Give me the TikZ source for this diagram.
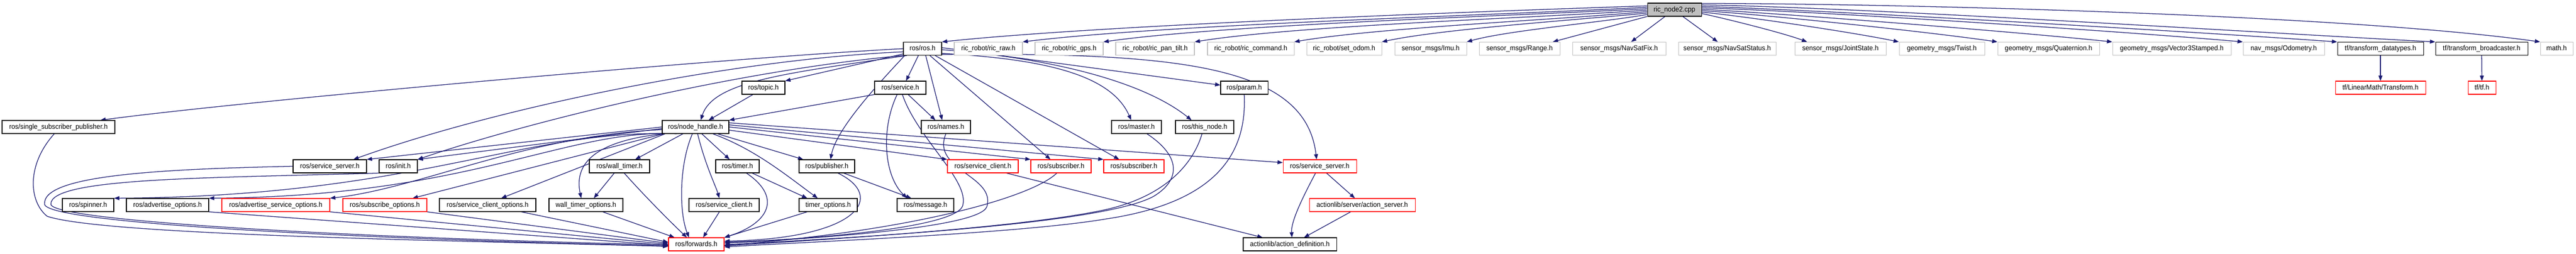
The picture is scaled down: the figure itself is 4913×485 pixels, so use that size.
\documentclass[tikz,border=0pt]{standalone}
\usepackage{fontspec}
\setmainfont{Liberation Sans}[FakeStretch=0.93]
\usetikzlibrary{arrows.meta,calc,backgrounds}
\definecolor{mblue}{HTML}{191970}
\definecolor{lgray}{HTML}{BFBFBF}
\tikzset{
 box/.style={draw, fill=white, line width=0.8pt, inner sep=0pt, minimum height=18.75pt, text height=7.4pt, text depth=2.1pt, font=\fontsize{10.2pt}{12pt}\selectfont},
 doc/.style={box, draw=black},
 nodoc/.style={box, draw=lgray},
 trunc/.style={box, draw=red},
 rootbox/.style={box, draw=black, fill=lgray},
 e/.style={draw=mblue, line width=0.95pt, -{Triangle[length=7.5pt,width=5.6pt]}}
}
\newcommand{\mkbox}[6]{\node[#1, minimum width=#5*0.75pt] (#2) at (#3,#4) {#6};}
\begin{document}
\begin{tikzpicture}[x=0.75pt,y=0.75pt]
\useasboundingbox (0,0) rectangle (4913,485);
\mkbox{rootbox}{root}{3193.5}{466.5}{103}{ric\_node2.cpp}
\mkbox{doc}{ros}{1759.5}{392}{73}{ros/ros.h}
\mkbox{nodoc}{raw}{1885}{392}{130}{ric\_robot/ric\_raw.h}
\mkbox{nodoc}{gps}{2039}{392}{130}{ric\_robot/ric\_gps.h}
\mkbox{nodoc}{pantilt}{2203}{392}{150}{ric\_robot/ric\_pan\_tilt.h}
\mkbox{nodoc}{command}{2385.5}{392}{165}{ric\_robot/ric\_command.h}
\mkbox{nodoc}{setodom}{2563.5}{392}{143}{ric\_robot/set\_odom.h}
\mkbox{nodoc}{imu}{2728.5}{392}{137}{sensor\_msgs/Imu.h}
\mkbox{nodoc}{range}{2898}{392}{154}{sensor\_msgs/Range.h}
\mkbox{nodoc}{navfix}{3088}{392}{178}{sensor\_msgs/NavSatFix.h}
\mkbox{nodoc}{navstat}{3294}{392}{186}{sensor\_msgs/NavSatStatus.h}
\mkbox{nodoc}{joint}{3510}{392}{174}{sensor\_msgs/JointState.h}
\mkbox{nodoc}{twist}{3703.5}{392}{163}{geometry\_msgs/Twist.h}
\mkbox{nodoc}{quat}{3907}{392}{194}{geometry\_msgs/Quaternion.h}
\mkbox{nodoc}{vec3}{4142}{392}{226}{geometry\_msgs/Vector3Stamped.h}
\mkbox{nodoc}{odom}{4355.5}{392}{155}{nav\_msgs/Odometry.h}
\mkbox{doc}{tfdt}{4540}{392}{164}{tf/transform\_datatypes.h}
\mkbox{doc}{tfbc}{4733}{392}{176}{tf/transform\_broadcaster.h}
\mkbox{nodoc}{math}{4876}{392}{62}{math.h}
\mkbox{doc}{topic}{1456}{317.5}{82}{ros/topic.h}
\mkbox{doc}{service}{1717}{317.5}{98}{ros/service.h}
\mkbox{doc}{param}{2373}{317.5}{90}{ros/param.h}
\mkbox{trunc}{lmt}{4540}{317.5}{172}{tf/LinearMath/Transform.h}
\mkbox{trunc}{tftf}{4733.5}{317.5}{53}{tf/tf.h}
\mkbox{doc}{ssp}{111.5}{242.5}{215}{ros/single\_subscriber\_publisher.h}
\mkbox{doc}{nh}{1326.5}{242.5}{127}{ros/node\_handle.h}
\mkbox{doc}{names}{1804}{242.5}{94}{ros/names.h}
\mkbox{doc}{master}{2167.5}{242.5}{95}{ros/master.h}
\mkbox{doc}{thisnode}{2297.5}{242.5}{111}{ros/this\_node.h}
\mkbox{doc}{ss}{629}{167.5}{140}{ros/service\_server.h}
\mkbox{doc}{init}{759.5}{167.5}{73}{ros/init.h}
\mkbox{doc}{wt}{1181.5}{167.5}{115}{ros/wall\_timer.h}
\mkbox{doc}{timer}{1406.5}{167.5}{83}{ros/timer.h}
\mkbox{doc}{pub}{1577}{167.5}{106}{ros/publisher.h}
\mkbox{trunc}{scr}{1874.5}{167.5}{135}{ros/service\_client.h}
\mkbox{trunc}{sub1}{2023.5}{167.5}{115}{ros/subscriber.h}
\mkbox{trunc}{sub2}{2162.5}{167.5}{115}{ros/subscriber.h}
\mkbox{trunc}{ssr}{2517}{167.5}{140}{ros/service\_server.h}
\mkbox{doc}{spinner}{168}{93.5}{98}{ros/spinner.h}
\mkbox{doc}{ao}{319.5}{93.5}{157}{ros/advertise\_options.h}
\mkbox{trunc}{aso}{526}{93.5}{206}{ros/advertise\_service\_options.h}
\mkbox{trunc}{so}{734}{93.5}{160}{ros/subscribe\_options.h}
\mkbox{doc}{sco}{930}{93.5}{184}{ros/service\_client\_options.h}
\mkbox{doc}{wto}{1117.5}{93.5}{141}{wall\_timer\_options.h}
\mkbox{doc}{sc}{1381}{93.5}{134}{ros/service\_client.h}
\mkbox{doc}{msg}{1765}{93.5}{108}{ros/message.h}
\mkbox{doc}{tmo}{1579.5}{93.5}{111}{timer\_options.h}
\mkbox{trunc}{as}{2598}{93.5}{202}{actionlib/server/action\_server.h}
\mkbox{trunc}{fwd}{1328}{18.5}{106}{ros/forwards.h}
\mkbox{doc}{ad}{2460}{18.5}{178}{actionlib/action\_definition.h}
\begin{pgfonlayer}{background}
% root edges
\draw[e] (root.172) .. controls (2826,463) and (2110,438) .. (ros.north east);
\draw[e] (root.175) .. controls (2862,456) and (2228,439) .. (raw.north east);
\draw[e] (root.178) .. controls (2898,455) and (2346,439) .. (gps.north east);
\draw[e] (root.181) .. controls (2939,451) and (2478,437) .. (pantilt.north east);
\draw[e] (root.184) .. controls (2984,448) and (2624,432) .. (command.north east);
\draw[e] (root.187) .. controls (3023,448) and (2751,430) .. (setodom.north east);
\draw[e] (root.190) .. controls (3062,443) and (2875,427) .. (imu.north east);
\draw[e] (root.194) -- ($(range.north east)+(-14,0)$);
\draw[e] ($(root.south)+(-18,0)$) -- ($(navfix.north)+(23,0)$);
\draw[e] ($(root.south)+(16,0)$) -- ($(navstat.north)+(-18,0)$);
\draw[e] (root.352) .. controls (3293,449) and (3401,422) .. ($(joint.north west)+(24,0)$);
\draw[e] (root.355) .. controls (3334,453) and (3535,423) .. (twist.north west);
\draw[e] (root.358) .. controls (3378,456) and (3678,424) .. (quat.north west);
\draw[e] (root.1) .. controls (3429,457) and (3846,424) .. (vec3.north west);
\draw[e] (root.4) .. controls (3488,462) and (4036,426) .. (odom.north west);
\draw[e] (root.7) .. controls (3530,463) and (4174,425) .. (tfdt.north west);
\draw[e] (root.10) .. controls (3574,470) and (4317,422) .. (tfbc.north west);
\draw[e] (root.13) .. controls (3621,478) and (4473,457) .. (math.north west);
\draw[e] (tfdt.south) -- (lmt.north);
\draw[e] (tfbc.south) -- (tftf.north);
% ros.h edges
\draw[e] (ros.west) .. controls (1420,377) and (490,295) .. ($(ssp.north)+(80,0)$);
\draw[e] ($(ros.west)+(0,-6)$) .. controls (1400,372) and (950,280) .. ($(ss.north)+(45,0)$);
\draw[e] (ros.south west) .. controls (1400,350) and (1000,250) .. (init.north east);
\draw[e] ($(ros.south west)+(7,0)$) .. controls (1500,345) and (1360,330) .. ($(nh.north)+(10,0)$);
\draw[e] ($(topic.south)+(-20,0)$) -- ($(nh.north)+(25,0)$);
\draw[e] (service.south west) -- (nh.north east);
\draw[e] ($(ros.south west)+(0,3)$) -- (topic.north east);
\draw[e] ($(ros.south)+(-8,0)$) -- ($(service.north)+(11,0)$);
\draw[e] ($(ros.south)+(6,0)$) -- ($(names.north)+(-7,0)$);
\draw[e] ($(ros.south west)+(3,0)$) .. controls (1680,330) and (1595,240) .. ($(pub.north)+(7,0)$);
\draw[e] ($(ros.south)+(14,0)$) -- ($(sub1.north)+(-20,0)$);
\draw[e] ($(ros.south)+(24,0)$) -- ($(sub2.north)+(-28,0)$);
\draw[e] ($(ros.south east)+(0,4)$) .. controls (2000,372) and (2120,340) .. ($(master.north)+(-10,0)$);
\draw[e] ($(ros.east)+(0,-2)$) .. controls (2000,375) and (2180,330) .. ($(thisnode.north)+(-25,0)$);
\draw[e] ($(ros.east)+(0,2)$) -- ($(param.west)+(0,5)$);
\draw[e] ($(ros.south east)+(0,2)$) .. controls (2250,385) and (2490,360) .. ($(ssr.north)+(-6,0)$);
% node_handle edges
\draw[e] (nh.west) -- (ss.north east);
\draw[e] ($(nh.west)+(0,-3)$) -- (init.north east);
\draw[e] (nh.200) .. controls (1000,240) and (800,110) .. (spinner.north east);
\draw[e] (nh.200) .. controls (1080,240) and (900,110) .. (ao.north east);
\draw[e] ($(nh.west)+(0,-5)$) .. controls (1000,225) and (800,125) .. (aso.north east);
\draw[e] ($(nh.south west)+(3,0)$) -- ($(so.north)+(53,0)$);
\draw[e] ($(nh.south west)+(6,0)$) -- ($(sco.north)+(26,0)$);
\draw[e] ($(nh.south west)+(2,0)$) .. controls (1130,215) and (1095,170) .. ($(wto.north)+(-9,0)$);
\draw[e] ($(nh.south)+(-24,0)$) -- ($(wt.north)+(30,0)$);
\draw[e] ($(nh.south)+(-6,0)$) .. controls (1295,170) and (1295,80) .. ($(fwd.north)+(-14,0)$);
\draw[e] ($(nh.south)+(4,0)$) .. controls (1345,170) and (1365,130) .. ($(sc.north)+(-9,0)$);
\draw[e] ($(nh.south)+(12,0)$) -- ($(timer.north)+(-15,0)$);
\draw[e] ($(nh.south)+(33,0)$) .. controls (1440,200) and (1500,150) .. ($(tmo.north)+(-20,0)$);
\draw[e] ($(nh.south)+(42,0)$) -- ($(pub.north)+(-45,0)$);
\draw[e] ($(nh.east)+(0,-6)$) -- (scr.north west);
\draw[e] (nh.east) -- (sub1.north west);
\draw[e] ($(nh.east)+(0,4)$) -- (sub2.north west);
\draw[e] ($(nh.east)+(0,8)$) -- ($(ssr.west)+(0,7)$);
% service.h, names.h etc.
\draw[e] ($(service.south)+(15,0)$) -- ($(names.north)+(-20,0)$);
\draw[e] ($(service.south)+(-6,0)$) .. controls (1680,240) and (1685,150) .. ($(msg.north)+(-35,0)$);
\draw[e] ($(service.south)+(4,0)$) .. controls (1750,220) and (1850,140) .. (1836,92) .. controls (1822,50) and (1550,28) .. ($(fwd.east)+(0,4)$);
\draw[e] (names.south) .. controls (1775,160) and (1900,150) .. (1882,90) .. controls (1866,50) and (1560,30) .. ($(fwd.east)+(0,2)$);
\draw[e] ($(sub1.south)+(-8,0)$) .. controls (1970,110) and (1750,45) .. ($(fwd.east)+(0,-2)$);
\draw[e] ($(master.south)+(20,0)$) .. controls (2255,185) and (2250,140) .. (2200,110) .. controls (2100,55) and (1600,30) .. ($(fwd.east)+(0,-1)$);
\draw[e] ($(thisnode.south)+(-5,0)$) .. controls (2275,170) and (2220,110) .. (2110,85) .. controls (1950,50) and (1580,28) .. ($(fwd.east)+(0,-3)$);
\draw[e] (param.south) .. controls (2378,200) and (2330,100) .. (2110,67) .. controls (1950,40) and (1580,25) .. ($(fwd.east)+(0,-5)$);
\draw[e] ($(pub.south)+(32,0)$) -- ($(msg.north)+(-27,0)$);
\draw[e] ($(pub.south)+(21,0)$) .. controls (1690,110) and (1640,30) .. ($(fwd.east)+(0,6)$);
\draw[e] ($(timer.south)+(28,0)$) -- ($(tmo.north)+(-40,0)$);
\draw[e] ($(timer.south)+(17,0)$) .. controls (1490,110) and (1470,60) .. (fwd.north east);
\draw[e] ($(tmo.south)+(-40,0)$) -- (fwd.north east);
\draw[e] ($(sc.south)+(-9,0)$) -- ($(fwd.north)+(13,0)$);
\draw[e] ($(wt.south)+(-10,0)$) -- ($(wto.north)+(15,0)$);
\draw[e] ($(wt.south)+(9,0)$) .. controls (1230,110) and (1280,60) .. ($(fwd.north)+(-18,0)$);
\draw[e] ($(wto.south)+(32,0)$) -- ($(fwd.north west)+(12,0)$);
\draw[e] ($(sco.south)+(64,0)$) -- ($(fwd.west)+(0,4)$);
\draw[e] (so.south east) -- ($(fwd.west)+(0,2)$);
\draw[e] (aso.south east) -- (fwd.west);
\draw[e] (ao.south east) -- ($(fwd.west)+(0,-2)$);
\draw[e] ($(ssp.south)+(-8,0)$) .. controls (50,170) and (55,100) .. (90,72) .. controls (200,35) and (900,25) .. ($(fwd.west)+(0,-4)$);
\draw[e] (ss.west) .. controls (300,162) and (80,150) .. (85,95) .. controls (90,58) and (700,28) .. ($(fwd.west)+(0,-3)$);
\draw[e] (init.south west) .. controls (400,145) and (95,146) .. (97,95) .. controls (100,62) and (700,30) .. ($(fwd.west)+(0,-1)$);
% actionlib
\draw[e] ($(scr.south)+(45,0)$) -- ($(ad.north)+(-52,0)$);
\draw[e] ($(ssr.south)+(-8,0)$) .. controls (2480,100) and (2462,60) .. ($(ad.north)+(4,0)$);
\draw[e] ($(ssr.south)+(13,0)$) -- ($(as.north)+(-14,0)$);
\draw[e] ($(as.south)+(-22,0)$) -- ($(ad.north)+(27,0)$);
\end{pgfonlayer}
\end{tikzpicture}
\end{document}
